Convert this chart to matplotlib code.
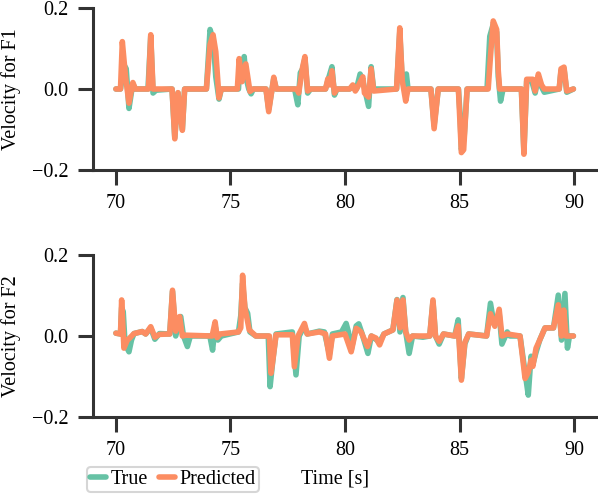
import numpy as np
import matplotlib
matplotlib.use("Agg")
import matplotlib.pyplot as plt

# ---- data (time [s], velocity) ----
t_true_f1 = [70.0, 70.2, 70.25, 70.35, 70.45, 70.57, 70.7, 70.74, 70.85, 71.4, 71.52, 71.62, 71.75,
             72.45, 72.57, 72.71, 72.9, 73.0, 73.95, 74.11, 74.25, 74.36, 74.5, 74.6, 75.35, 75.42,
             75.5, 75.6, 75.67, 75.8, 75.9, 76.0, 76.55, 76.67, 76.89, 77.0, 77.8, 77.94, 78.05,
             78.15, 78.25, 78.37, 78.5, 79.15, 79.25, 79.43, 79.54, 79.65, 80.2, 80.34, 80.5, 80.66,
             80.78, 81.03, 81.14, 81.25, 82.25, 82.39, 82.5, 82.68, 82.75, 83.75, 83.89, 84.07,
             84.95, 85.02, 85.08, 85.2, 85.33, 86.2, 86.32, 86.47, 86.62, 86.69, 86.79, 86.9, 87.7,
             87.81, 87.93, 88.15, 88.3, 88.44, 88.58, 88.7, 89.35, 89.43, 89.56, 89.68, 89.97]
v_true_f1 = [0.0, 0.0, 0.02, 0.06, 0.05, -0.048, 0.0, 0.012, 0.0, 0.0, 0.13, -0.01, -0.003,
             0.0, -0.12, -0.01, -0.10, 0.0, 0.0, 0.147, 0.12, 0.03, -0.025, 0.0, 0.0, 0.07,
             0.02, 0.08, 0.03, 0.0, -0.012, 0.0, 0.0, -0.05, 0.025, 0.0, 0.0, -0.039, 0.04,
             0.05, 0.075, -0.01, 0.0, 0.0, 0.02, 0.055, -0.015, 0.0, 0.0, 0.005, 0.0, 0.037,
             0.02, -0.043, 0.055, 0.0, 0.0, 0.14, 0.02, 0.037, 0.0, 0.0, -0.09, 0.0,
             0.0, -0.06, -0.15, -0.12, 0.0, 0.0, 0.13, 0.16, 0.14, 0.03, -0.03, 0.0, 0.0,
             -0.155, 0.02, 0.02, -0.01, 0.03, 0.005, -0.008, 0.0, 0.045, 0.05, -0.008, 0.0]

t_pred_f1 = [70.0, 70.2, 70.28, 70.42, 70.57, 70.74, 70.85, 71.42, 71.52, 71.62, 72.45, 72.57,
             72.71, 72.9, 73.0, 73.95, 74.11, 74.24, 74.36, 74.5, 74.6, 75.3, 75.38, 75.5, 75.67,
             75.85, 76.0, 76.55, 76.67, 76.89, 77.0, 77.9, 77.98, 78.15, 78.25, 78.37, 78.5, 79.15,
             79.25, 79.35, 79.43, 79.54, 79.65, 80.2, 80.34, 80.45, 80.6, 80.78, 80.85, 81.03,
             81.14, 81.25, 82.25, 82.39, 82.5, 82.65, 82.75, 83.75, 83.89, 84.07, 84.95, 85.08,
             85.18, 85.33, 86.25, 86.35, 86.47, 86.62, 86.69, 86.75, 87.7, 87.81, 87.93, 88.2,
             88.3, 88.44, 88.58, 88.7, 89.35, 89.43, 89.56, 89.68, 89.97]
v_pred_f1 = [0.0, 0.0, 0.117, 0.03, -0.035, 0.016, 0.0, 0.0, 0.134, 0.0, 0.0, -0.123,
             -0.009, -0.102, 0.0, 0.0, 0.11, 0.134, 0.092, -0.022, 0.0, 0.0, 0.075, 0.018, 0.062,
             -0.006, 0.0, 0.0, -0.056, 0.029, 0.0, 0.0, -0.01, 0.054, 0.08, -0.005, 0.0, 0.0,
             0.025, 0.01, 0.045, -0.01, 0.0, 0.0, 0.01, -0.005, 0.01, 0.03, -0.01, -0.02,
             0.05, -0.005, 0.0, 0.151, 0.02, -0.03, 0.0, 0.0, -0.098, 0.0, 0.0, -0.157,
             -0.15, 0.0, 0.0, 0.08, 0.168, 0.147, 0.046, 0.0, 0.0, -0.161, 0.024, 0.024,
             -0.005, 0.037, 0.01, 0.0, 0.0, 0.05, 0.054, -0.005, 0.0]

t_true_f2 = [70.0, 70.2, 70.25, 70.32, 70.4, 70.57, 70.68, 70.79, 71.15, 71.3, 71.52, 71.7, 71.9,
             72.35, 72.47, 72.61, 72.83, 72.95, 73.12, 73.25, 74.1, 74.22, 74.33, 74.45, 74.6,
             75.35, 75.45, 75.53, 75.63, 75.75, 75.85, 76.11, 76.65, 76.73, 76.85, 76.99, 77.7,
             77.86, 78.0, 78.23, 78.35, 78.88, 79.1, 79.32, 79.45, 79.85, 80.05, 80.15, 80.27,
             80.49, 80.6, 80.75, 81.0, 81.15, 81.51, 81.7, 82.09, 82.27, 82.4, 82.53, 82.65, 82.8,
             82.95, 83.4, 83.7, 83.84, 83.95, 84.11, 84.3, 84.79, 84.94, 85.08, 85.23, 85.4, 86.18,
             86.35, 86.5, 86.73, 86.85, 87.08, 87.2, 87.64, 87.86, 88.0, 88.12, 88.2, 88.34, 88.5,
             88.73, 89.1, 89.31, 89.45, 89.6, 89.71, 89.8, 89.97]
v_true_f2 = [0.007, 0.005, 0.07, 0.06, -0.02, -0.039, -0.01, 0.006, 0.011, 0.005, 0.02, -0.008, 0.006,
             0.005, 0.11, 0.0, 0.048, 0.0, -0.026, 0.0, 0.0, -0.035, 0.025, -0.01, 0.0,
             0.01, 0.05, 0.13, 0.07, 0.056, 0.01, 0.0, 0.0, -0.125, -0.06, 0.005, 0.01,
             -0.096, 0.0, 0.025, 0.005, 0.012, 0.01, -0.045, 0.005, 0.01, 0.031, 0.01, -0.035,
             0.025, 0.03, 0.005, -0.043, 0.0, -0.015, 0.005, 0.015, 0.09, 0.01, 0.095, 0.01, -0.043,
             0.0, -0.003, 0.0, 0.085, 0.0, -0.02, 0.005, 0.0, 0.04, -0.105, -0.02, 0.005, 0.0,
             0.081, 0.03, 0.055, -0.02, 0.01, 0.0, 0.0, -0.09, -0.146, -0.05, -0.07, -0.04, -0.01,
             0.02, 0.02, 0.101, -0.01, 0.105, -0.03, 0.0, 0.0]

t_pred_f2 = [70.0, 70.2, 70.25, 70.35, 70.5, 70.6, 70.79, 71.15, 71.3, 71.52, 71.7, 71.9, 72.35,
             72.47, 72.61, 72.78, 72.9, 73.05, 74.2, 74.33, 74.42, 74.55, 75.35, 75.45, 75.53,
             75.63, 75.82, 76.11, 76.7, 76.77, 76.85, 76.99, 77.7, 77.79, 77.95, 78.23, 78.35,
             78.88, 79.15, 79.32, 79.45, 80.0, 80.27, 80.49, 80.7, 80.98, 81.15, 81.35, 81.51,
             81.7, 82.09, 82.27, 82.4, 82.53, 82.65, 82.8, 82.95, 83.4, 83.7, 83.84, 83.95, 84.11,
             84.3, 84.79, 84.94, 85.08, 85.23, 85.4, 86.18, 86.35, 86.54, 86.73, 86.85, 87.08,
             87.64, 87.86, 88.0, 88.12, 88.2, 88.34, 88.5, 88.73, 89.1, 89.31, 89.45, 89.55, 89.65,
             89.97]
v_pred_f2 = [0.007, 0.005, 0.089, -0.03, -0.01, -0.005, 0.006, 0.011, 0.005, 0.023, -0.003, 0.004, 0.005,
             0.113, 0.012, 0.048, 0.0, 0.002, 0.0, 0.035, -0.004, 0.005, 0.01, 0.02, 0.15,
             0.07, 0.015, 0.0, 0.0, -0.092, -0.06, 0.003, 0.003, -0.076, 0.0, 0.031, 0.005,
             0.01, 0.005, -0.055, 0.0, 0.005, -0.039, 0.019, 0.01, -0.026, 0.0, -0.005, -0.022,
             0.005, 0.015, 0.089, 0.02, 0.089, 0.01, -0.01, 0.0, 0.0, 0.0, 0.089, 0.0, -0.013,
             0.005, 0.0, 0.025, -0.109, -0.016, 0.005, 0.0, 0.055, 0.024, 0.066, 0.0, 0.005,
             0.0, -0.105, -0.09, -0.06, -0.075, -0.03, -0.01, 0.02, 0.02, 0.077, 0.0, 0.064, 0.0,
             0.0]

ylabels = ["Velocity for F1", "Velocity for F2"]
xticks = [70, 75, 80, 85, 90]
yticks = [-0.2, 0.0, 0.2]

c_true = "#66c2a5"
c_pred = "#fc8d62"
ink = "#333333"

plt.rcParams["font.family"] = ["Liberation Serif", "DejaVu Serif"]
plt.rcParams["font.size"] = 14.5

W, H = 598, 494
fig = plt.figure(figsize=(W / 100, H / 100), dpi=100)

# axes rectangles in pixels: left, top, right, bottom
boxes = [(93, 8, 597, 170), (93, 255, 597, 417)]
series = [(t_true_f1, v_true_f1, t_pred_f1, v_pred_f1),
          (t_true_f2, v_true_f2, t_pred_f2, v_pred_f2)]

axes = []
for (l, t, r, b), (tt, vt, tp, vp), lab in zip(boxes, series, ylabels):
    ax = fig.add_axes([l / W, 1 - b / H, (r - l) / W, (b - t) / H])
    ax.plot(tt, vt, color=c_true, lw=4.0, solid_joinstyle="round",
            solid_capstyle="round", label="True")
    ax.plot(tp, vp, color=c_pred, lw=4.0, solid_joinstyle="round",
            solid_capstyle="round", label="Predicted")
    ax.set_xlim(69, 91)
    ax.set_ylim(-0.2, 0.2)
    ax.set_xticks(xticks)
    ax.set_yticks(yticks)
    ax.set_yticklabels(["\u22120.2", "0.0", "0.2"])
    for s in ["top", "right"]:
        ax.spines[s].set_visible(False)
    for s in ["left", "bottom"]:
        ax.spines[s].set_linewidth(2.2)
        ax.spines[s].set_color(ink)
    ax.tick_params(length=10.5, width=2.2, color=ink, labelcolor="black", pad=7)
    ax.set_ylabel(lab)
    ax.yaxis.set_label_coords((21 - l) / (r - l), 0.5)
    axes.append(ax)

ax2 = axes[1]
ax2.set_xlabel("Time [s]")
ax2.xaxis.set_label_coords((335 - 93) / 504, (417 - 469) / 162)

handles, labels = axes[0].get_legend_handles_labels()
leg = fig.legend(handles, labels, loc="lower left", bbox_to_anchor=(87 / W, 2 / H),
                 ncol=2, handlelength=0.8, handletextpad=0.25, columnspacing=0.5,
                 borderpad=0.15, borderaxespad=0, frameon=True, fancybox=True)
leg.get_frame().set_edgecolor("#cccccc")
leg.get_frame().set_linewidth(1.5)
for line in leg.get_lines():
    line.set_linewidth(4.0)

fig.savefig("out.png", dpi=100)
